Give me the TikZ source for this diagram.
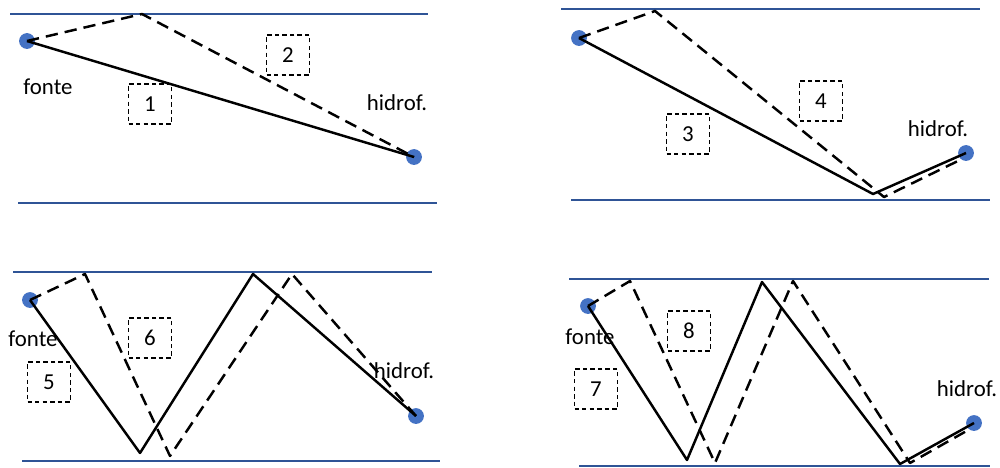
\documentclass[tikz,border=0pt]{standalone}
\usepackage{fontspec}
\setmainfont{Carlito}
\usepackage{xcolor}
\definecolor{wallblue}{RGB}{47,84,150}
\definecolor{dotblue}{RGB}{68,114,196}

\begin{document}
\begin{tikzpicture}[
  x=0.02cm, y=-0.02cm,
  font=\fontsize{13}{15}\selectfont,
  wall/.style={draw=wallblue, line width=1.5pt},
  dot/.style={circle, fill=dotblue, inner sep=0pt, minimum size=9pt},
  ray/.style={line width=1.4pt, line join=round},
  echo/.style={line width=1.4pt, line join=round, dash pattern=on 7pt off 4pt},
  tag/.style={draw, line width=0.6pt, dash pattern=on 2.5pt off 1.8pt,
              minimum width=0.86cm, minimum height=0.8cm, inner sep=0pt},
  lbl/.style={inner sep=0pt},
]
\useasboundingbox (0,0) rectangle (1000,467);

% top-left panel
\draw[wall] (10,14) -- (428,14);
\draw[wall] (18,203) -- (437,203);
\node[dot] (srcA) at (27,41) {};
\node[dot] (hydA) at (414,157) {};
\coordinate (topA) at (142,14);
\node[lbl] (fonteA) at (48,87) {fonte};
\node[lbl] (hidrofA) at (397,103) {hidrof.};
\node[tag] (t1) at (150,104) {1};
\node[tag] (t2) at (288,55) {2};
\draw[ray] (srcA.center) -- (hydA.center);
\draw[echo] (srcA.center) -- (topA) -- (hydA.center);

% top-right panel
\draw[wall] (561,9) -- (980,9);
\draw[wall] (571,200) -- (990,200);
\node[dot] (srcB) at (579,38) {};
\node[dot] (hydB) at (966,153) {};
\coordinate (botB) at (873,194);
\coordinate (topB) at (655,11);
\coordinate (botB2) at (884,197);
\node[lbl] (hidrofB) at (938,129) {hidrof.};
\node[tag] (t3) at (688,134) {3};
\node[tag] (t4) at (821,101) {4};
\draw[ray] (srcB.center) -- (botB) -- (hydB.center);
\draw[echo] (srcB.center) -- (topB) -- (botB2) -- (962,159);

% bottom-left panel
\draw[wall] (13,272) -- (432,272);
\draw[wall] (22,461) -- (440,461);
\node[dot] (srcC) at (30,300) {};
\node[dot] (hydC) at (416,416) {};
\coordinate (botC) at (140,453);
\coordinate (topC) at (253,274);
\coordinate (topC1) at (85,274);
\coordinate (botC1) at (170,456);
\coordinate (topC2) at (292,274);
\node[lbl] (fonteC) at (33,339) {fonte};
\node[lbl] (hidrofC) at (404,371) {hidrof.};
\node[tag] (t5) at (49,382) {5};
\node[tag] (t6) at (150,338) {6};
\draw[ray] (srcC.center) -- (botC) -- (topC) -- (hydC.center);
\draw[echo] (srcC.center) -- (topC1) -- (botC1) -- (topC2) -- (hydC.center);

% bottom-right panel
\draw[wall] (569,279) -- (989,279);
\draw[wall] (579,466) -- (990,466);
\node[dot] (srcD) at (588,306) {};
\node[dot] (hydD) at (974,423) {};
\coordinate (botD) at (687,460);
\coordinate (topD) at (762,282);
\coordinate (botD2) at (900,464);
\coordinate (topD1) at (630,281);
\coordinate (botD1) at (715,463);
\coordinate (topD2) at (793,281);
\coordinate (botD3) at (910,463);
\node[lbl] (fonteD) at (590,337) {fonte};
\node[lbl] (hidrofD) at (967,389) {hidrof.};
\node[tag] (t7) at (596,389) {7};
\node[tag] (t8) at (689,331) {8};
\draw[ray] (srcD.center) -- (botD) -- (topD) -- (botD2) -- (hydD.center);
\draw[echo] (srcD.center) -- (topD1) -- (botD1) -- (topD2) -- (botD3) -- (970,429);
\end{tikzpicture}
\end{document}
